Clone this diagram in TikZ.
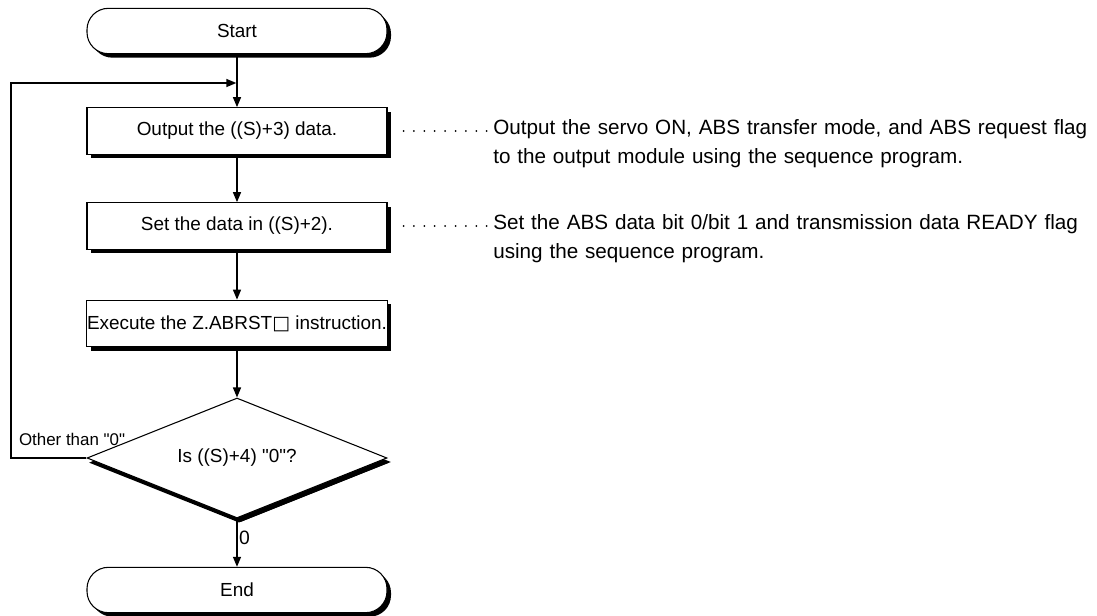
\documentclass[tikz,border=0pt]{standalone}
\usepackage{fontspec}
\setmainfont{Liberation Sans}
\newfontfamily\symfont{DejaVu Sans}
\usetikzlibrary{positioning,arrows.meta,shapes.geometric,shadows}

\begin{document}
\begin{tikzpicture}[x=0.75pt, y=-0.75pt,
  box/.style={draw, fill=white, line width=0.8pt, align=center, font=\fontsize{14.2}{16}\selectfont, inner sep=2pt,
    general shadow={fill=black, shadow xshift=3pt, shadow yshift=-3pt}},
  term/.style={box, rounded corners=16pt, minimum width=225pt, minimum height=34pt},
  proc/.style={box, minimum width=225pt, minimum height=35pt},
  dec/.style={box, diamond, aspect=2.5, minimum width=225pt, minimum height=90pt, inner sep=0pt,
    general shadow={fill=black, shadow xshift=1.5pt, shadow yshift=-3.5pt}},
  note/.style={text width=470pt, align=left, inner sep=0pt, anchor=mid west, font=\fontsize{15.5}{21.75}\selectfont},
  lbl/.style={inner sep=1pt, font=\fontsize{12.7}{15}\selectfont},
  arr/.style={-{Triangle[length=7.5pt, width=6pt]}, line width=1.1pt},
  leader/.style={line width=1.5pt, line cap=round, dash pattern=on 0pt off 7.8pt, shorten <=12pt, shorten >=4.5pt}
]
\useasboundingbox (0,0) rectangle (1097,615);
% flow chart
\node[term] (start) at (237,31) {Start};
\node[proc] (outd) at (237,131) {Output the ((S)+3) data.};
\node[proc] (setd) at (237,226) {Set the data in ((S)+2).};
\node[proc, inner xsep=0.3pt] (exec) at (237,323.5) {Execute the Z.ABRST{\symfont □} instruction.};
\node[dec] (isz) at (237,458) {Is ((S)+4) \textquotedbl 0\textquotedbl ?};
\node[term] (fin) at (237,590) {End};
\coordinate (lp) at (11,458);
\coordinate (jn) at (237,83);
\draw[arr] (start) -- (outd);
\draw[arr] (outd) -- (setd);
\draw[arr] (setd) -- (exec);
\draw[arr] (exec) -- (isz);
\draw[arr] (isz) -- node[lbl, right, font=\fontsize{14.5}{16}\selectfont, pos=0.4] {0} (fin);
\draw[arr, line width=1pt, shorten >=0.5pt] (isz.west) -- node[lbl, pos=1, anchor=south west, xshift=4.5pt, yshift=8pt] {Other than \textquotedbl 0\textquotedbl} (lp) |- (jn);
% notes
\node[note] (n1) at (493,131) {Output the servo ON, ABS transfer mode, and ABS request flag\\to the output module using the sequence program.};
\node[note] (n2) at (493,226) {Set the ABS data bit 0/bit 1 and transmission data READY flag\\using the sequence program.};
\draw[leader] (outd.east) -- (n1.mid west);
\draw[leader] (setd.east) -- (n2.mid west);
\end{tikzpicture}
\end{document}
